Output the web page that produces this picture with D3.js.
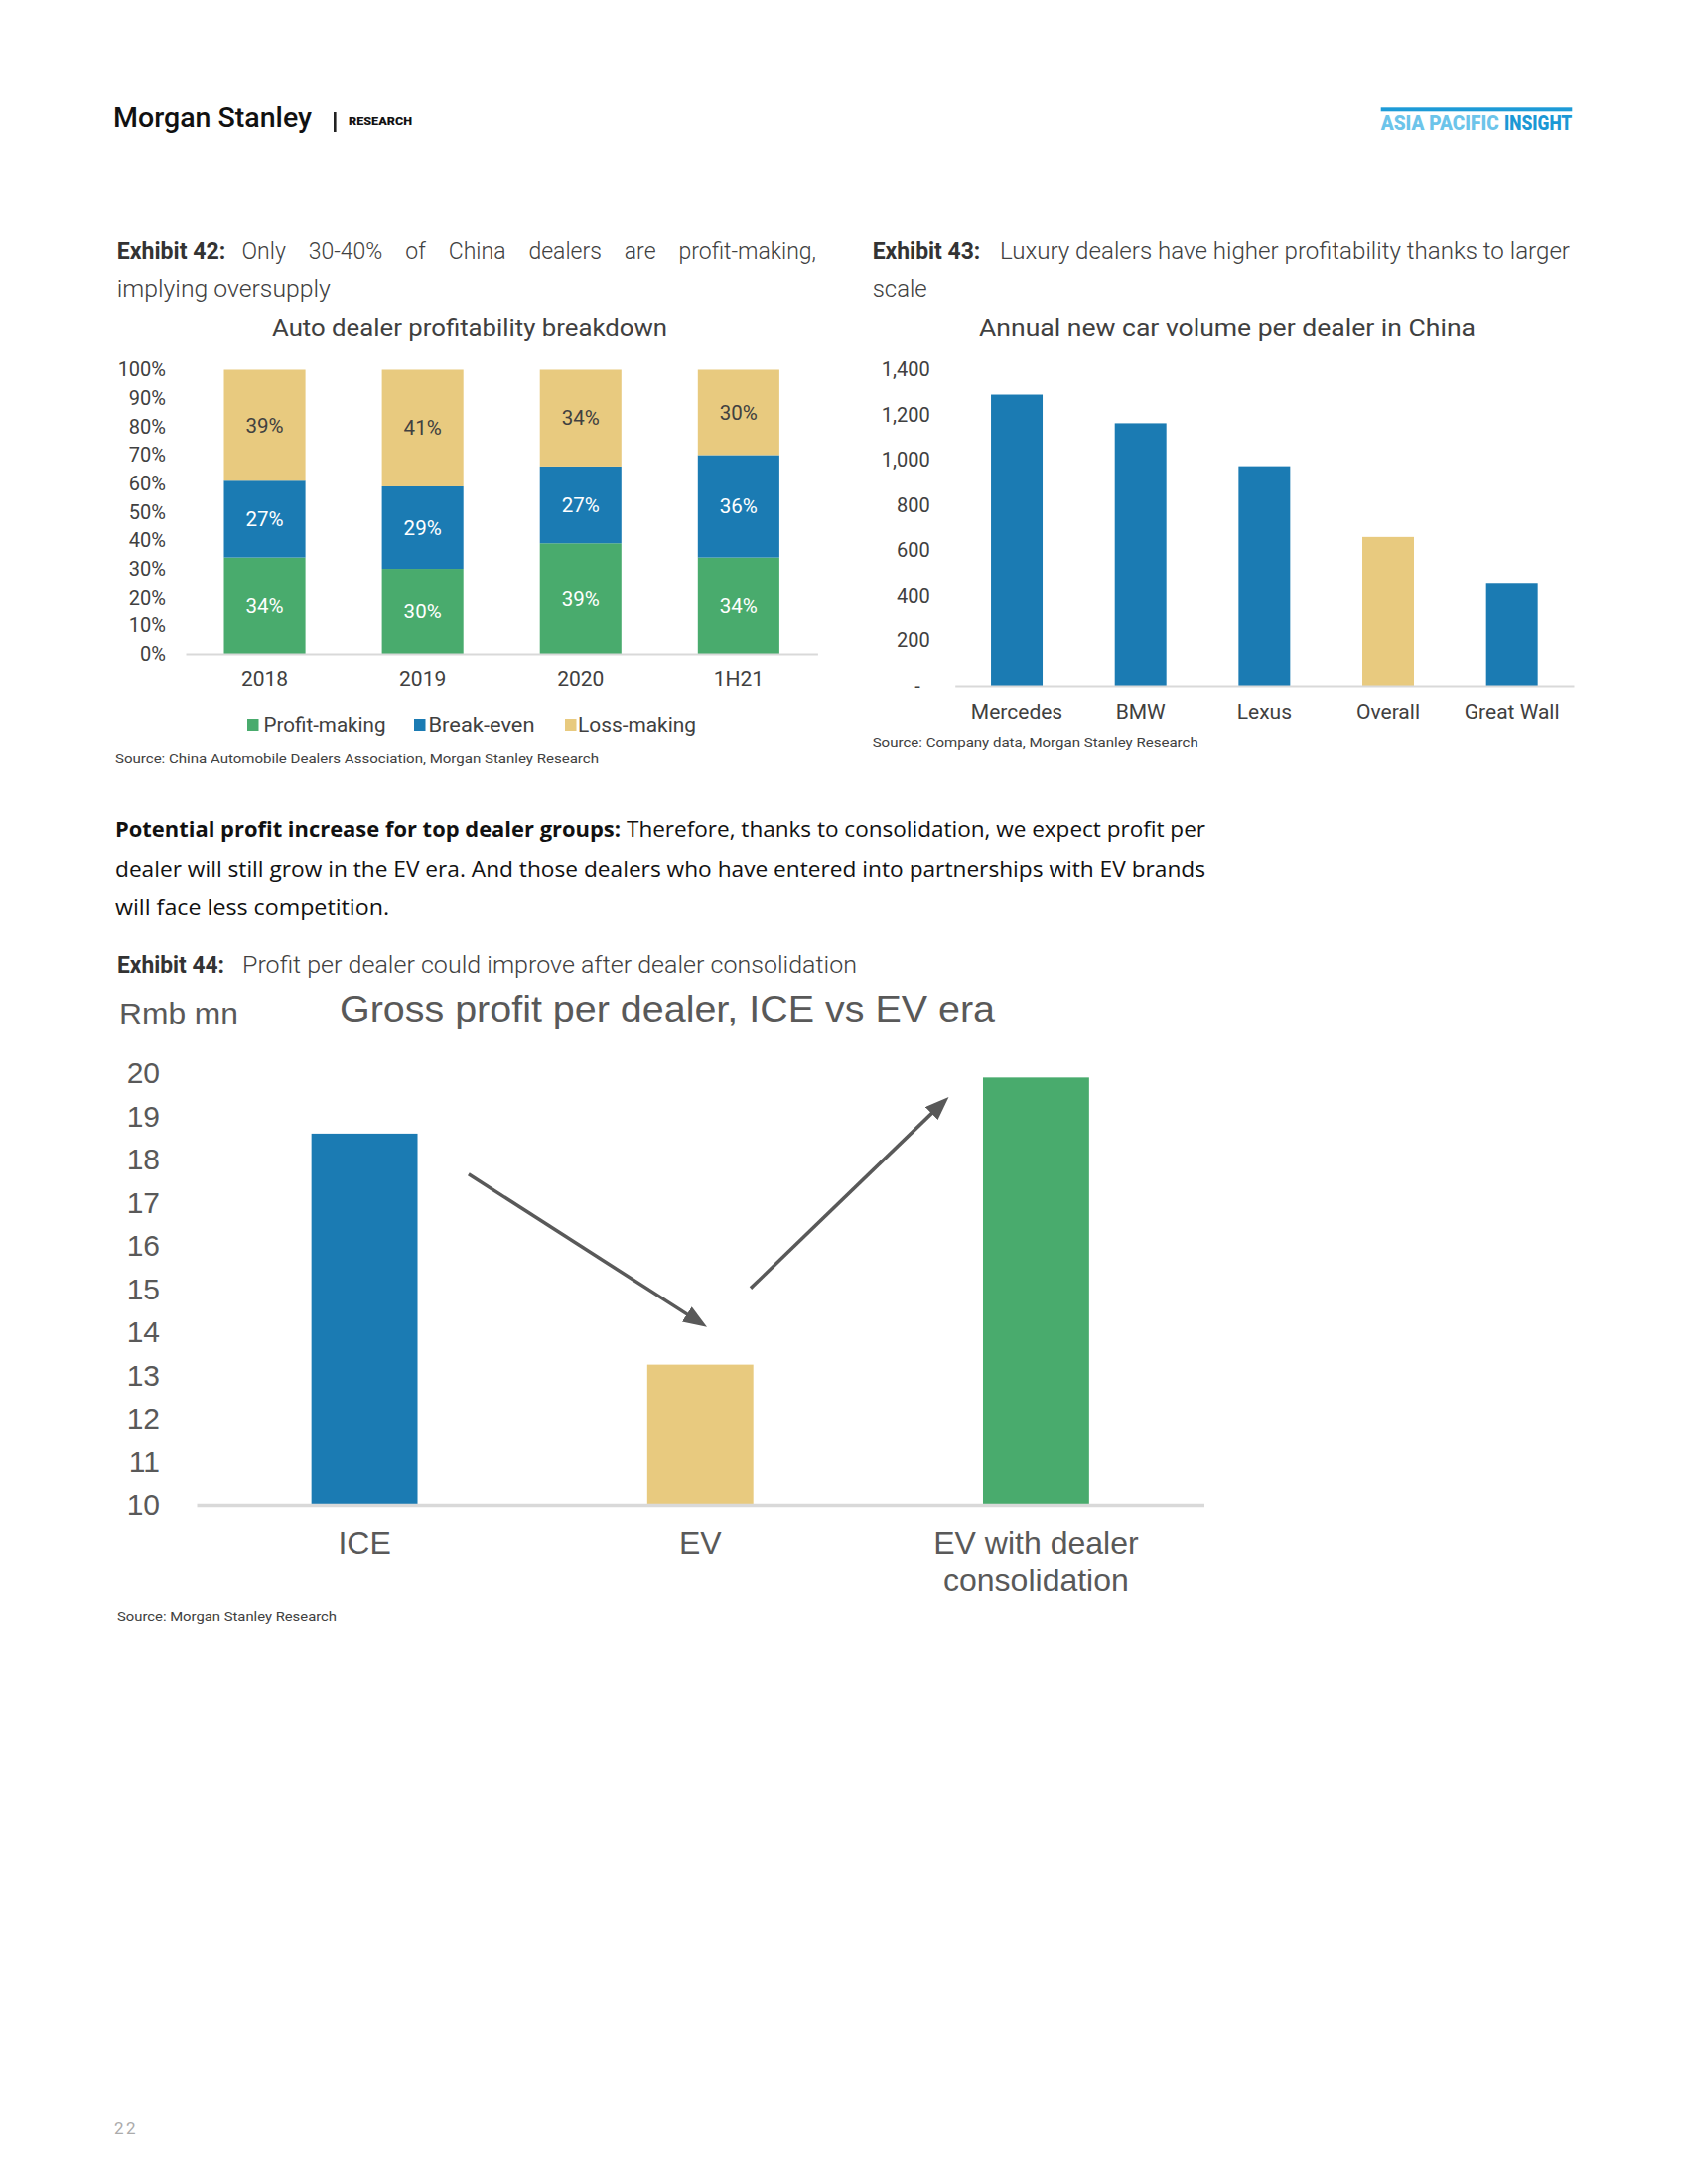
<!DOCTYPE html>
<html>
<head>
<meta charset="utf-8">
<script src="https://cdn.jsdelivr.net/npm/d3@7"></script>
<style>
body { margin: 0; background: #fff; }
svg text { font-family: Roboto, "Noto Sans", sans-serif; }
</style>
</head>
<body>
<svg id="page" width="1700" height="2200"></svg>
<script>
// ---- data ----
const years = ["2018", "2019", "2020", "1H21"];
const profitMaking = [34, 30, 39, 34];
const breakEven = [27, 29, 27, 36];
const lossMaking = [39, 41, 34, 30];
const pctTicks = [0, 10, 20, 30, 40, 50, 60, 70, 80, 90, 100];

const brands = ["Mercedes", "BMW", "Lexus", "Overall", "Great Wall"];
const carsPerDealer = [1290, 1163, 973, 660, 456];
const volumeTicks = [0, 200, 400, 600, 800, 1000, 1200, 1400];

const eras = ["ICE", "EV", "EV with dealer consolidation"];
const grossProfit = [18.6, 13.25, 19.9];
const profitTicks = [10, 11, 12, 13, 14, 15, 16, 17, 18, 19, 20];
// arrows: [category index, Rmb mn]
const arrowStart = [[0.31, 17.66], [1.15, 15.02]];
const arrowEnd = [[1.02, 14.12], [1.74, 19.45]];

const BLUE = "#1b7bb3", GREEN = "#49ab6d", TAN = "#e8ca7f";

const svg = d3.select("#page");
svg.append("rect").attr("width", 1700).attr("height", 2200).attr("fill", "#fff");

function txt(x, y, s, o) {
  o = o || {};
  const t = svg.append("text")
    .attr("x", x).attr("y", y)
    .attr("font-size", o.size || 14)
    .attr("font-weight", o.weight || 400)
    .attr("fill", o.fill || "#404040")
    .attr("text-anchor", o.anchor || "start")
    .text(s);
  if (o.family) t.style("font-family", o.family);
  if (o.len) t.attr("textLength", o.len).attr("lengthAdjust", o.adj || "spacingAndGlyphs");
  return t;
}

// spread the word gaps so a line fills the width (justified text)
function justify(t, width) {
  const natural = t.node().getComputedTextLength();
  const gaps = t.text().split(" ").length - 1;
  if (gaps > 0) t.attr("word-spacing", (width - natural) / gaps);
}

// ---- page header ----
txt(114, 127.7, "Morgan Stanley", {size: 27, weight: 500, len: 200, fill: "#111"});
svg.append("rect").attr("x", 336).attr("y", 113).attr("width", 2.6).attr("height", 20).attr("fill", "#222");
txt(351, 125.5, "RESEARCH", {size: 11, weight: 900, len: 64, fill: "#111"});
svg.append("rect").attr("x", 1390.7).attr("y", 108.3).attr("width", 192.6).attr("height", 4).attr("fill", "#1d9bd7");
txt(1390.7, 131, "ASIA PACIFIC", {size: 20, weight: 900, len: 119, fill: "#6cc4ea"});
txt(1515, 131, "INSIGHT", {size: 20, weight: 900, len: 68.3, fill: "#1b98d5"});

// ---- exhibit captions ----
txt(117.8, 261, "Exhibit 42:", {size: 23, weight: 700, len: 109.5, fill: "#333"});
justify(txt(243.5, 261, "Only 30-40% of China dealers are profit-making,", {size: 23, weight: 300}), 578.5);
txt(117.8, 299, "implying oversupply", {size: 23, weight: 300, len: 215});

txt(878.7, 261, "Exhibit 43:", {size: 23, weight: 700, len: 108.6, fill: "#333"});
txt(1007, 261, "Luxury dealers have higher profitability thanks to larger", {size: 23, weight: 300, len: 574});
txt(878.7, 298.6, "scale", {size: 23, weight: 300, len: 55});

// ---- Exhibit 42: stacked bars ----
const rows = years.map((y, i) => ({year: y, profit: profitMaking[i], even: breakEven[i], loss: lossMaking[i]}));
const keys = ["profit", "even", "loss"];
const keyNames = {profit: "Profit-making", even: "Break-even", loss: "Loss-making"};
const color1 = d3.scaleOrdinal().domain(keys).range([GREEN, BLUE, TAN]);

const x1 = d3.scaleBand().domain(years).range([187, 823.4]).paddingInner(0.484).paddingOuter(0.242);
const y1 = d3.scaleLinear().domain([0, 100]).range([659, 372.5]);
const stacked = d3.stack().keys(keys)(rows);

txt(473, 338, "Auto dealer profitability breakdown", {size: 23, anchor: "middle", len: 398});

const g1 = svg.append("g");
g1.selectAll("g.layer").data(stacked).enter().append("g")
    .attr("class", "layer")
    .attr("fill", d => color1(d.key))
  .selectAll("rect").data(d => d).enter().append("rect")
    .attr("x", d => x1(d.data.year))
    .attr("width", x1.bandwidth())
    .attr("y", d => y1(d[1]))
    .attr("height", d => y1(d[0]) - y1(d[1]));

stacked.forEach(layer => {
  g1.selectAll(null).data(layer).enter().append("text")
    .attr("x", d => x1(d.data.year) + x1.bandwidth() / 2)
    .attr("y", d => (y1(d[0]) + y1(d[1])) / 2)
    .attr("dy", "0.35em")
    .attr("text-anchor", "middle")
    .attr("font-size", 20.5)
    .attr("fill", layer.key === "loss" ? "#404040" : "#fff")
    .text(d => (d[1] - d[0]) + "%");
});

const ax1y = svg.append("g").attr("transform", "translate(187,0)")
  .call(d3.axisLeft(y1).tickValues(pctTicks).tickSize(0).tickPadding(20).tickFormat(d => d + "%"));
ax1y.select(".domain").remove();
ax1y.selectAll("text").attr("font-size", 20).attr("fill", "#404040").style("font-family", "Roboto");

const ax1x = svg.append("g").attr("transform", "translate(0,659)")
  .call(d3.axisBottom(x1).tickSize(0).tickPadding(17.5));
ax1x.select(".domain").attr("stroke", "#d9d9d9").attr("stroke-width", 2);
ax1x.selectAll("text").attr("font-size", 21).attr("fill", "#404040").style("font-family", "Roboto");

// legend
const legSq = [249, 417, 569];
const legTx = [265.5, 431.5, 582];
const legLen = [123, 107, 119];
keys.forEach((k, i) => {
  svg.append("rect").attr("x", legSq[i]).attr("y", 724).attr("width", 11.5).attr("height", 12).attr("fill", color1(k));
  txt(legTx[i], 737, keyNames[k], {size: 20, len: legLen[i]});
});
txt(116, 769, "Source: China Automobile Dealers Association, Morgan Stanley Research", {size: 13.5, len: 487});

// ---- Exhibit 43: volume per dealer ----
const x2 = d3.scaleBand().domain(brands).range([961.7, 1585]).paddingInner(0.583).paddingOuter(0.2915);
const y2 = d3.scaleLinear().domain([0, 1400]).range([691, 372.5]);

txt(1236, 338, "Annual new car volume per dealer in China", {size: 23, anchor: "middle", len: 500});

svg.append("g").selectAll("rect").data(brands).enter().append("rect")
  .attr("x", d => x2(d))
  .attr("width", x2.bandwidth())
  .attr("y", (d, i) => y2(carsPerDealer[i]))
  .attr("height", (d, i) => y2(0) - y2(carsPerDealer[i]))
  .attr("fill", d => d === "Overall" ? TAN : BLUE);

const ax2y = svg.append("g").attr("transform", "translate(961.7,0)")
  .call(d3.axisLeft(y2).tickValues(volumeTicks).tickSize(0).tickPadding(25)
    .tickFormat(d => d === 0 ? "-" : d3.format(",")(d)));
ax2y.select(".domain").remove();
ax2y.selectAll("text").attr("font-size", 20).attr("fill", "#404040").style("font-family", "Roboto");
ax2y.selectAll("text").filter(d => d === 0).attr("dx", -10);

const ax2x = svg.append("g").attr("transform", "translate(0,691)")
  .call(d3.axisBottom(x2).tickSize(0).tickPadding(18));
ax2x.select(".domain").attr("stroke", "#d9d9d9").attr("stroke-width", 2);
ax2x.selectAll("text").attr("font-size", 21).attr("fill", "#404040").style("font-family", "Roboto");

txt(878.7, 752, "Source: Company data, Morgan Stanley Research", {size: 13.5, len: 328});

// ---- body paragraph ----
const BODY = "'Open Sans', Lato, sans-serif";
txt(116, 843.3, "Potential profit increase for top dealer groups:", {family: BODY, size: 21.5, weight: 700, len: 509, fill: "#111"});
txt(631, 843.3, "Therefore, thanks to consolidation, we expect profit per", {family: BODY, size: 21.5, len: 583, fill: "#111"});
txt(116, 883.3, "dealer will still grow in the EV era. And those dealers who have entered into partnerships with EV brands", {family: BODY, size: 21.5, len: 1098, fill: "#111"});
txt(116, 921.7, "will face less competition.", {family: BODY, size: 21.5, len: 276, fill: "#111"});

// ---- Exhibit 44: gross profit per dealer ----
txt(118, 980, "Exhibit 44:", {size: 23, weight: 700, len: 108, fill: "#333"});
txt(244, 980, "Profit per dealer could improve after dealer consolidation", {size: 23, weight: 300, len: 619});

const ARIAL = "'Liberation Sans', Arial, sans-serif";
txt(120, 1031, "Rmb mn", {family: ARIAL, size: 30, len: 120, fill: "#595959"});
txt(672, 1029, "Gross profit per dealer, ICE vs EV era", {family: ARIAL, size: 36, anchor: "middle", len: 660, fill: "#595959"});

const x3 = d3.scaleBand().domain(eras).range([198, 1212.5]).paddingInner(0.684).paddingOuter(0.342);
const y3 = d3.scaleLinear().domain([10, 20]).range([1516, 1081]);
const color3 = d3.scaleOrdinal().domain(eras).range([BLUE, TAN, GREEN]);
const idx3 = d3.scaleLinear().domain([0, 1]).range([x3(eras[0]) + x3.bandwidth() / 2, x3(eras[1]) + x3.bandwidth() / 2]);

svg.append("g").selectAll("rect").data(eras).enter().append("rect")
  .attr("x", d => x3(d))
  .attr("width", x3.bandwidth())
  .attr("y", (d, i) => y3(grossProfit[i]))
  .attr("height", (d, i) => y3(10) - y3(grossProfit[i]))
  .attr("fill", d => color3(d));

const ax3y = svg.append("g").attr("transform", "translate(198,0)")
  .call(d3.axisLeft(y3).tickValues(profitTicks).tickSize(0).tickPadding(37));
ax3y.select(".domain").remove();
ax3y.selectAll("text").attr("font-size", 30).attr("fill", "#595959").style("font-family", ARIAL);

const ax3x = svg.append("g").attr("transform", "translate(0,1516)")
  .call(d3.axisBottom(x3).tickSize(0).tickPadding(26.5));
ax3x.select(".domain").attr("stroke", "#d9d9d9").attr("stroke-width", 3.4);
ax3x.selectAll("text").attr("font-size", 32).attr("fill", "#595959").style("font-family", ARIAL)
  .each(function(d) {
    const t = d3.select(this);
    if (this.getComputedTextLength() < 260) return;
    const words = d.split(" ");
    const line1 = words.slice(0, 3).join(" "), line2 = words.slice(3).join(" ");
    const y = t.attr("y"), dy = t.attr("dy");
    t.text(null);
    t.append("tspan").attr("x", 0).attr("y", y).attr("dy", dy).text(line1);
    t.append("tspan").attr("x", 0).attr("y", y).attr("dy", "1.88em").text(line2);
  });

// arrows
const defs = svg.append("defs");
defs.append("marker").attr("id", "head")
  .attr("markerUnits", "userSpaceOnUse")
  .attr("viewBox", "0 0 24 18").attr("markerWidth", 24).attr("markerHeight", 18)
  .attr("refX", 14).attr("refY", 9).attr("orient", "auto")
  .append("path").attr("d", "M0,0 L24,9 L0,18 Z").attr("fill", "#595959");

arrowStart.forEach((s, i) => {
  const e = arrowEnd[i];
  const x0 = idx3(s[0]), y0 = y3(s[1]), xe = idx3(e[0]), ye = y3(e[1]);
  const len = Math.hypot(xe - x0, ye - y0);
  const k = (len - 10) / len;
  svg.append("line")
    .attr("x1", x0).attr("y1", y0)
    .attr("x2", x0 + (xe - x0) * k).attr("y2", y0 + (ye - y0) * k)
    .attr("stroke", "#595959").attr("stroke-width", 3.5)
    .attr("marker-end", "url(#head)");
});

txt(118, 1633, "Source: Morgan Stanley Research", {size: 13.5, len: 221});

// page number
txt(115, 2150, "22", {size: 17, fill: "#ababab"}).attr("letter-spacing", 2.5);
</script>
</body>
</html>
